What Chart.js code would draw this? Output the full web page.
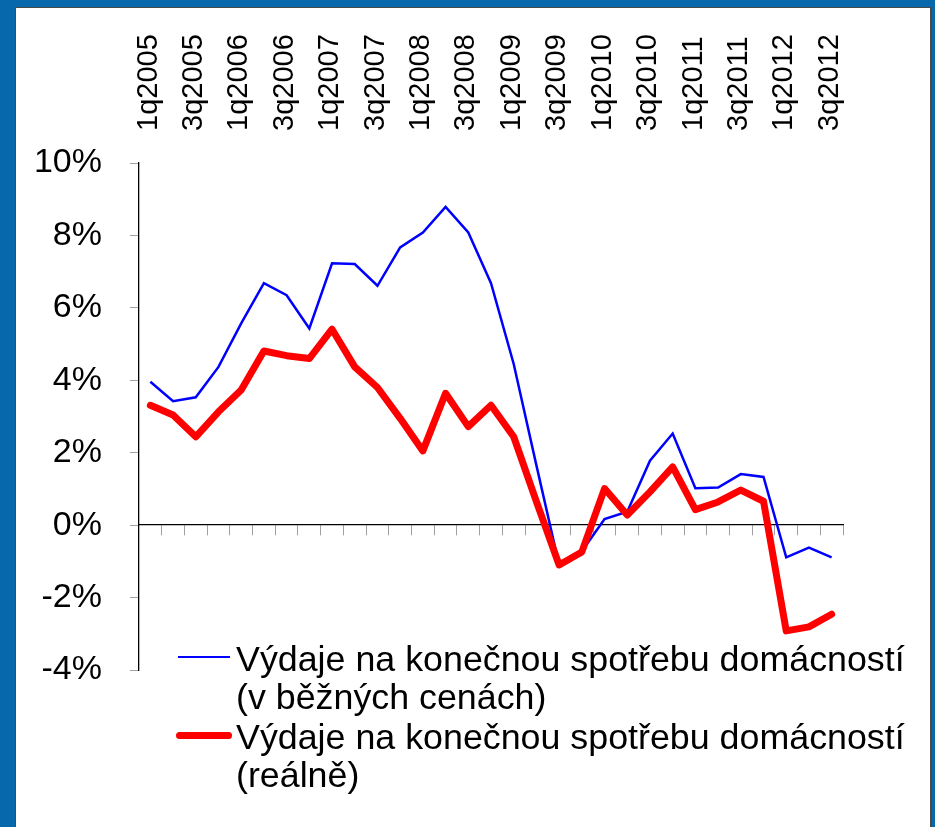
<!DOCTYPE html>
<html>
<head>
<meta charset="utf-8">
<script src="https://cdn.jsdelivr.net/npm/chart.js@4.4.0/dist/chart.umd.min.js"></script>
<style>
  html, body { margin: 0; padding: 0; }
  body { width: 935px; height: 827px; background: #0868ac; position: relative; overflow: hidden; }
  #frame { position: absolute; left: 15px; top: 7px; width: 914px; height: 820px; background: #fff;
    border-left: 1px solid #4a4a4a; border-top: 1px solid #4a4a4a; border-right: 2px solid #4a4a4a; }
  #chart { position: absolute; left: 16px; top: 8px; }
  .legend { position: absolute; left: 236px; font-family: 'Liberation Sans', Arial, sans-serif;
    font-size: 35.8px; line-height: 38px; color: #000; white-space: nowrap; }
  .swatch { position: absolute; }
</style>
</head>
<body>
<div id="frame"></div>
<canvas id="chart" width="914" height="819"></canvas>

<div class="swatch" style="left:178px; top:655.5px; width:52px; height:2.5px; background:#0000ff;"></div>
<div class="legend" style="top:640px;">Výdaje na konečnou spotřebu domácností<br>(v běžných cenách)</div>
<div class="swatch" style="left:176px; top:731.5px; width:56px; height:7px; border-radius:3.5px; background:#ff0000;"></div>
<div class="legend" style="top:718px;">Výdaje na konečnou spotřebu domácností<br>(reálně)</div>

<script>
// quarters 1q2005 .. 3q2012
const quarters = [
  '1q2005', '2q2005', '3q2005', '4q2005',
  '1q2006', '2q2006', '3q2006', '4q2006',
  '1q2007', '2q2007', '3q2007', '4q2007',
  '1q2008', '2q2008', '3q2008', '4q2008',
  '1q2009', '2q2009', '3q2009', '4q2009',
  '1q2010', '2q2010', '3q2010', '4q2010',
  '1q2011', '2q2011', '3q2011', '4q2011',
  '1q2012', '2q2012', '3q2012'
];

// y/y change, %
const nominal = [
  3.96, 3.42, 3.53, 4.37, 5.57, 6.68, 6.35, 5.43,
  7.23, 7.21, 6.61, 7.67, 8.08, 8.79, 8.08, 6.68,
  4.45, 1.65, -1.1, -0.72, 0.17, 0.37, 1.78, 2.53,
  1.02, 1.04, 1.41, 1.33, -0.89, -0.62, -0.89
];
const real = [
  3.31, 3.04, 2.44, 3.13, 3.73, 4.81, 4.68, 4.6,
  5.41, 4.37, 3.8, 2.95, 2.05, 3.64, 2.72, 3.31,
  2.44, 0.65, -1.1, -0.74, 1.01, 0.28, 0.92, 1.61,
  0.43, 0.64, 0.97, 0.66, -2.92, -2.81, -2.46
];

const yTicks = { min: -4, max: 10, step: 2 };

const ctx = document.getElementById('chart').getContext('2d');
const chart = new Chart(ctx, {
  type: 'line',
  data: {
    labels: quarters,
    datasets: [
      {
        label: 'Výdaje na konečnou spotřebu domácností (v běžných cenách)',
        data: nominal,
        xAxisID: 'x',
        borderColor: '#0000ff',
        borderWidth: 2.5,
        pointRadius: 0,
        tension: 0,
        order: 1
      },
      {
        label: 'Výdaje na konečnou spotřebu domácností (reálně)',
        data: real,
        xAxisID: 'x',
        borderColor: '#ff0000',
        borderWidth: 7,
        borderJoinStyle: 'round',
        borderCapStyle: 'round',
        pointRadius: 0,
        tension: 0,
        order: 0
      }
    ]
  },
  options: {
    responsive: false,
    animation: false,
    layout: { padding: { left: 0, top: 0, right: 87, bottom: 157 } },
    plugins: {
      legend: { display: false },
      tooltip: { enabled: false }
    },
    scales: {
      x: {
        type: 'category',
        position: 'top',
        offset: true,
        grid: { display: false, drawTicks: false },
        border: { display: false },
        ticks: {
          autoSkip: false,
          minRotation: 90,
          maxRotation: 90,
          padding: 32,
          labelOffset: 33,
          color: '#000',
          font: { family: "'Liberation Sans', Arial", size: 29 },
          callback: (v, i) => (i % 2 === 0 ? quarters[i] : '')
        },
        afterFit: (s) => { s.height = 155; }
      },
      xZero: {
        type: 'category',
        position: { y: 0 },
        offset: true,
        grid: { offset: true, drawOnChartArea: false, tickLength: 10, color: '#a0a0a0', lineWidth: 1 },
        border: { display: true, color: '#000', width: 1.3 },
        ticks: { display: false }
      },
      y: {
        min: yTicks.min,
        max: yTicks.max,
        grid: { drawOnChartArea: false, tickLength: 9, color: '#a0a0a0' },
        border: { color: '#000', width: 1.3 },
        ticks: {
          stepSize: yTicks.step,
          padding: 28,
          color: '#000',
          font: { family: "'Liberation Sans', Arial", size: 34 },
          callback: (v) => v + '%'
        },
        afterFit: (s) => { s.width = 123; }
      }
    }
  }
});
</script>
</body>
</html>
